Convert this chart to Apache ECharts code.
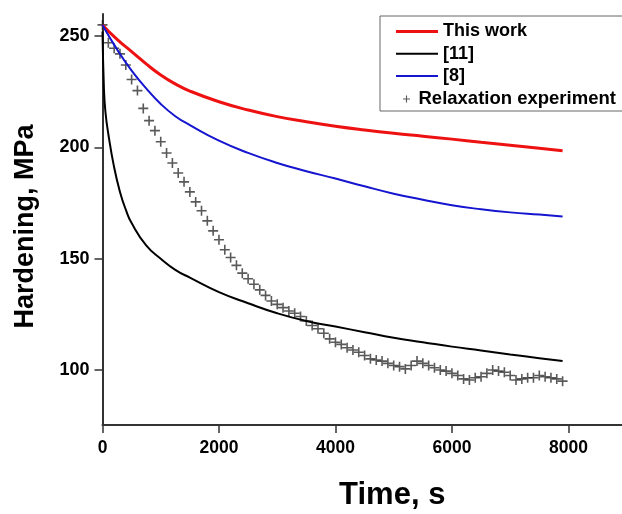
<!DOCTYPE html>
<html>
<head>
<meta charset="utf-8">
<script src="https://cdn.jsdelivr.net/npm/echarts@6/dist/echarts.min.js"></script>
<style>
html,body{margin:0;padding:0;background:#fff;}
#chart{width:622px;height:514px;}
</style>
</head>
<body>
<div id="chart"></div>
<script>
// ---- data ----
var curveTime = [0, 250, 500, 750, 1000, 1250, 1500, 2000, 2500, 3000, 3500, 4000, 4500, 5000, 5500, 6000, 6500, 7000, 7500, 7900];
var thisWork = [255, 248.5, 243, 237.5, 232.5, 228.5, 225.3, 220.5, 216.8, 213.8, 211.5, 209.5, 207.8, 206.3, 205, 203.7, 202.3, 201, 199.6, 198.5];
var ref8 = [255, 244, 234.5, 226.5, 219.5, 214, 210, 203, 197.5, 193, 189.3, 186, 182.5, 179.2, 176.5, 174, 172.2, 170.8, 169.8, 169];

var ref11Time = [0, 25, 50, 100, 200, 300, 400, 500, 750, 1000, 1250, 1500, 2000, 2500, 3000, 3500, 4000, 4500, 5000, 5500, 6000, 6500, 7000, 7500, 7900];
var ref11 = [252, 226, 216, 206, 191, 180, 172, 166, 156, 150, 145, 141.5, 135, 130, 125.5, 122, 119.5, 117, 114.5, 112.5, 110.5, 108.8, 107, 105.3, 104];

var expTime = [0, 100, 200, 300, 400, 500, 600, 700, 800, 900, 1000, 1100, 1200, 1300, 1400, 1500, 1600, 1700, 1800, 1900, 2000, 2100, 2200, 2300, 2400, 2500, 2600, 2700, 2800, 2900, 3000, 3100, 3200, 3300, 3400, 3500, 3600, 3700, 3800, 3900, 4000, 4100, 4200, 4300, 4400, 4500, 4600, 4700, 4800, 4900, 5000, 5100, 5200, 5300, 5400, 5500, 5600, 5700, 5800, 5900, 6000, 6100, 6200, 6300, 6400, 6500, 6600, 6700, 6800, 6900, 7000, 7100, 7200, 7300, 7400, 7500, 7600, 7700, 7800, 7900];
var expValues = [255, 247, 244.5, 242, 237, 230.5, 225.5, 217.5, 212, 207.5, 202.5, 197.5, 193, 188.5, 184.5, 180, 175.5, 171.5, 167, 162.5, 158.5, 154, 150.5, 147, 143.5, 141, 138.5, 136, 133.5, 131, 129.5, 128, 126.5, 125.5, 124, 122, 120, 118.5, 116.5, 114, 112.5, 111.5, 110, 109, 108, 106.5, 105, 104.5, 104, 103, 102, 101.5, 100.5, 102, 104, 103, 102, 101, 100, 99.5, 98.5, 97.5, 96, 95.5, 96.5, 97, 98.5, 100, 99.5, 99, 97.5, 95.5, 96, 96.5, 96.5, 97.5, 97, 96.5, 96, 95];

var xTicks = [0, 2000, 4000, 6000, 8000];
var yTicks = [100, 150, 200, 250];

var seriesNames = ['This work', '[11]', '[8]', 'Relaxation experiment'];

function pairs(xs, ys) { return xs.map(function (x, i) { return [x, ys[i]]; }); }

var FONT = '"Liberation Sans", Arial, Helvetica, sans-serif';
var PLUS = 'path://M4.2,0H5.8V4.2H10V5.8H5.8V10H4.2V5.8H0V4.2H4.2Z';

var chart = echarts.init(document.getElementById('chart'), null, {renderer: 'canvas'});
chart.setOption({
  animation: false,
  backgroundColor: '#fff',
  grid: {left: 102.5, right: 0, top: 14, bottom: 89, containLabel: false, outerBoundsMode: 'none'},
  xAxis: {
    type: 'value', min: 0, max: 8920,
    name: 'Time, s', nameLocation: 'middle', nameGap: 55,
    nameTextStyle: {fontFamily: FONT, fontWeight: 'bold', fontSize: 31, color: '#000', padding: [0, 0, 0, 60]},
    axisLine: {show: true, onZero: false, lineStyle: {color: '#333', width: 2}},
    axisTick: {show: true, inside: false, length: 8, lineStyle: {color: '#333', width: 1.5}, customValues: xTicks},
    axisLabel: {fontFamily: FONT, fontWeight: 'bold', fontSize: 17.5, color: '#000', margin: 14, customValues: xTicks,
      formatter: function (v) { return String(v); }},
    splitLine: {show: false}
  },
  yAxis: {
    type: 'value', min: 75.3, max: 259.9,
    name: 'Hardening, MPa', nameLocation: 'middle', nameGap: 63, nameRotate: 90,
    nameTextStyle: {fontFamily: FONT, fontWeight: 'bold', fontSize: 27, color: '#000', padding: [0, 14, 0, 0]},
    axisLine: {show: true, onZero: false, lineStyle: {color: '#333', width: 2}},
    axisTick: {show: true, inside: false, length: 8, lineStyle: {color: '#333', width: 1.5}, customValues: yTicks},
    axisLabel: {fontFamily: FONT, fontWeight: 'bold', fontSize: 18, color: '#000', margin: 13, customValues: yTicks,
      formatter: function (v) { return String(v); }},
    splitLine: {show: false}
  },
  legend: [{
    data: [
      {name: 'This work', icon: 'path://M0,0H42V3H0Z'},
      {name: '[11]', icon: 'path://M0,0H42V2H0Z'},
      {name: '[8]', icon: 'path://M0,0H42V2H0Z'}
    ],
    orient: 'vertical', left: 391, top: 17.5, itemWidth: 42, itemHeight: 3, itemGap: 4.3,
    textStyle: {fontFamily: FONT, fontWeight: 'bold', fontSize: 18, color: '#000'},
    selectedMode: false
  }, {
    data: [{name: 'Relaxation experiment', icon: PLUS}],
    orient: 'vertical', left: 398, top: 84.5, itemWidth: 14, itemHeight: 7,
    textStyle: {fontFamily: FONT, fontWeight: 'bold', fontSize: 18.5, color: '#000'},
    selectedMode: false
  }],
  graphic: [{
    type: 'rect', left: 379.5, top: 15.5, z: 0,
    shape: {width: 260, height: 95},
    style: {fill: '#fff', stroke: '#666', lineWidth: 1}
  }],
  series: [{
    name: seriesNames[0], type: 'line', data: pairs(curveTime, thisWork),
    showSymbol: false, smooth: 0.5,
    lineStyle: {color: '#ee1111', width: 3}, itemStyle: {color: '#ee1111'}, z: 3
  }, {
    name: seriesNames[1], type: 'line', data: pairs(ref11Time, ref11),
    showSymbol: false, smooth: 0.5,
    lineStyle: {color: '#000', width: 2}, itemStyle: {color: '#000'}, z: 3
  }, {
    name: seriesNames[2], type: 'line', data: pairs(curveTime, ref8),
    showSymbol: false, smooth: 0.5,
    lineStyle: {color: '#1515d0', width: 2}, itemStyle: {color: '#1515d0'}, z: 3
  }, {
    name: seriesNames[3], type: 'scatter', data: pairs(expTime, expValues),
    symbol: PLUS, symbolSize: 10,
    itemStyle: {color: '#222', opacity: 0.75}, z: 2
  }]
});
</script>
</body>
</html>
